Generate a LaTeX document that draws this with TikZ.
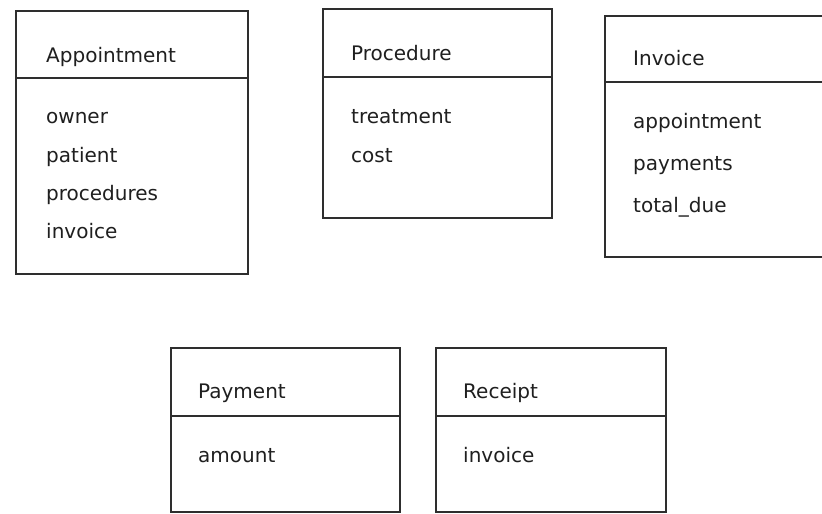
\documentclass[tikz,border=0pt]{standalone}
\usepackage{fontspec}
\setmainfont{DejaVu Sans}
\begin{document}
\begin{tikzpicture}[x=1pt,y=-1pt,
  classbox/.style={draw=black!82,line width=2.3pt,fill=white},
  divider/.style={draw=black!82,line width=2.1pt},
  label/.style={anchor=base west,inner sep=0pt,text=black!88,font=\fontsize{20}{23}\selectfont}]
\useasboundingbox (0,0) rectangle (822,514);
\clip (0,0) rectangle (822,514);
\fill[white] (0,0) rectangle (822,514);

% Appointment
\draw[classbox] (16,11) rectangle (248,274);
\coordinate (apL) at (16,78); \coordinate (apR) at (248,78);
\draw[divider] (apL) -- (apR);
\node[label] (apT) at (46,62) {Appointment};
\node[label] (ap1) at (46,123) {owner};
\node[label] (ap2) at (46,162) {patient};
\node[label] (ap3) at (46,200) {procedures};
\node[label] (ap4) at (46,238) {invoice};

% Procedure
\draw[classbox] (323,9) rectangle (552,218);
\coordinate (prL) at (323,77); \coordinate (prR) at (552,77);
\draw[divider] (prL) -- (prR);
\node[label] (prT) at (351,60) {Procedure};
\node[label] (pr1) at (351,123) {treatment};
\node[label] (pr2) at (351,162) {cost};

% Invoice (runs past the right edge)
\draw[classbox] (605,16) rectangle (840,257);
\coordinate (inL) at (605,82); \coordinate (inR) at (840,82);
\draw[divider] (inL) -- (inR);
\node[label] (inT) at (633,65) {Invoice};
\node[label] (in1) at (633,128) {appointment};
\node[label] (in2) at (633,170) {payments};
\node[label] (in3) at (633,212) {total\_due};

% Payment
\draw[classbox] (171,348) rectangle (400,512);
\coordinate (paL) at (171,416); \coordinate (paR) at (400,416);
\draw[divider] (paL) -- (paR);
\node[label] (paT) at (198,398) {Payment};
\node[label] (pa1) at (198,462) {amount};

% Receipt
\draw[classbox] (436,348) rectangle (666,512);
\coordinate (reL) at (436,416); \coordinate (reR) at (666,416);
\draw[divider] (reL) -- (reR);
\node[label] (reT) at (463,398) {Receipt};
\node[label] (re1) at (463,462) {invoice};
\end{tikzpicture}
\end{document}
